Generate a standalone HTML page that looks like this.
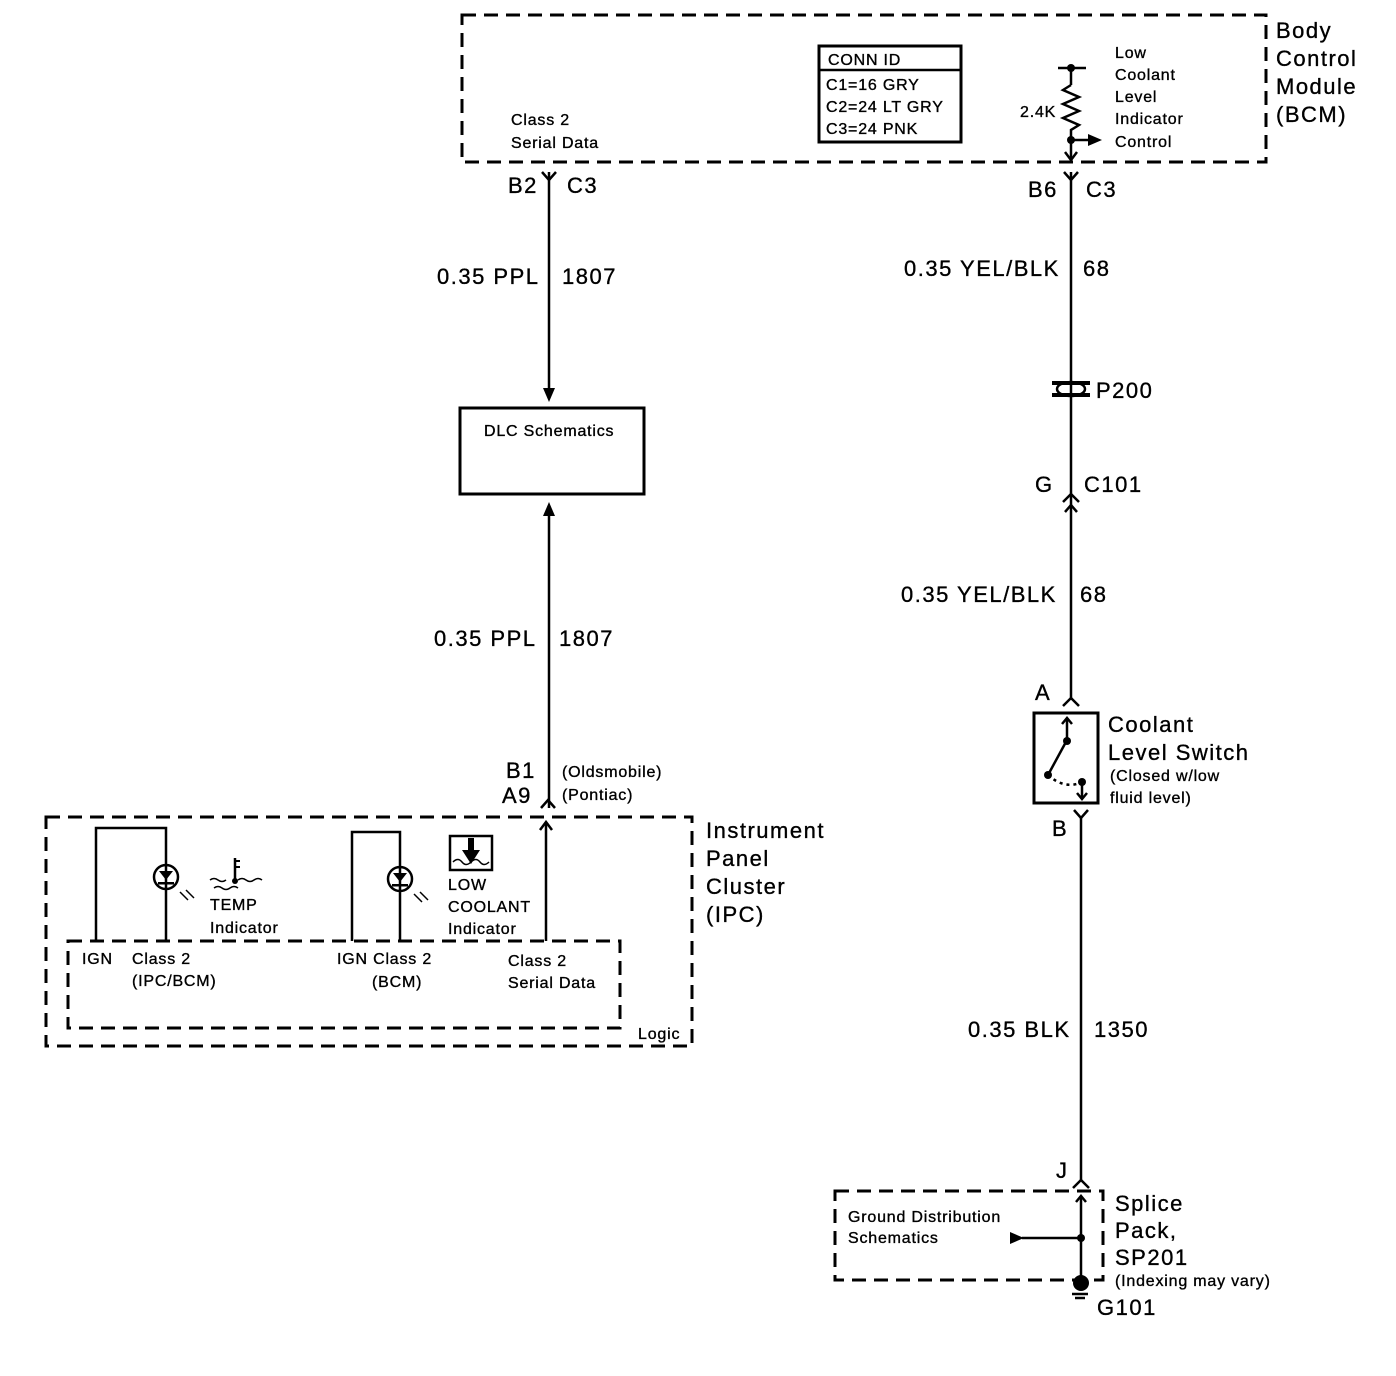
<!DOCTYPE html>
<html><head><style>
html,body{margin:0;padding:0;background:#fff;}
svg{display:block;}
text{font-family:"Liberation Sans",Arial,sans-serif;fill:#000;stroke:#000;stroke-width:0.35;}
.s{letter-spacing:0.8px;}
.b{letter-spacing:1.5px;}
</style></head><body>
<svg width="1396" height="1376" viewBox="0 0 1396 1376" xmlns="http://www.w3.org/2000/svg">
<g fill="none" stroke="#000" stroke-width="3" stroke-dasharray="14,8">
<rect x="462" y="15" width="804" height="147"/>
<rect x="46" y="817" width="646" height="229"/>
<rect x="68" y="941" width="552" height="87"/>
<rect x="835" y="1191" width="268" height="89"/>
</g>
<g stroke="#000" stroke-width="2.5" fill="none">
<line x1="549" y1="172" x2="549" y2="392"/>
<path d="M542 172 L549 180 L556 172"/>
<line x1="549" y1="512" x2="549" y2="808"/>
<path d="M541 808 L548 800 L555 808"/>
<line x1="546" y1="822" x2="546" y2="941"/>
<path d="M540 830 L546 822 L552 830"/>
<rect x="460" y="408" width="184" height="86" stroke-width="3"/>
<rect x="819" y="46" width="142" height="96" stroke-width="3"/>
<line x1="819" y1="70" x2="961" y2="70"/>
<line x1="1071" y1="68" x2="1071" y2="85"/>
<line x1="1058" y1="68" x2="1086" y2="68"/>
<path d="M1071 85 L1063 90 L1079 97 L1063 104 L1079 111 L1063 118 L1079 125 L1071 130 L1071 160"/>
<line x1="1071" y1="140" x2="1092" y2="140"/>
<path d="M1065 152 L1071 160 L1077 152"/>
<line x1="1071" y1="172" x2="1071" y2="700"/>
<path d="M1064 172 L1071 180 L1078 172"/>
<path d="M1063 502 L1071 494 L1079 502"/>
<path d="M1065 512 L1071 505 L1077 512"/>
<path d="M1063 706 L1071 698 L1079 706"/>
<rect x="1034" y="713" width="64" height="90" stroke-width="3"/>
<line x1="1067" y1="718" x2="1067" y2="740"/>
<path d="M1062 724 L1067 718 L1072 724"/>
<line x1="1067" y1="740" x2="1048" y2="775"/>
<path d="M1048 775 Q1065 790 1082 782" stroke-dasharray="3,4"/>
<line x1="1082" y1="782" x2="1082" y2="799"/>
<path d="M1077 793 L1082 799 L1087 793"/>
<line x1="1081" y1="818" x2="1081" y2="1180"/>
<path d="M1074 810 L1081 818 L1088 810"/>
<path d="M1073 1188 L1081 1180 L1089 1188"/>
<line x1="1081" y1="1196" x2="1081" y2="1280"/>
<path d="M1076 1202 L1081 1196 L1086 1202"/>
<line x1="1022" y1="1238" x2="1081" y2="1238"/>
<line x1="1072" y1="1294" x2="1088" y2="1294"/>
<line x1="1075" y1="1298" x2="1085" y2="1298"/>
<path d="M96 941 L96 828 L166 828 L166 941"/>
<circle cx="166" cy="877" r="12"/>
<path d="M352 941 L352 832 L400 832 L400 941"/>
<circle cx="400" cy="879" r="12"/>
<rect x="450" y="836" width="42" height="34"/>
<path d="M210 880 q4 -3 8 0 t8 0 M238 880 q4 -3 8 0 t8 0 t8 0 M214 888 q4 -3 8 0 t8 0 t8 0" stroke-width="1.5"/>
<line x1="235" y1="858" x2="235" y2="880"/>
<path d="M453 862 q5 -5 9 0 t9 0 t9 0 t9 0" stroke-width="1.5"/>
<path d="M180 892 l8 8 M186 890 l8 8 M414 894 l8 8 M420 892 l8 8" stroke-width="1.5"/>
</g>
<g fill="#000">
<polygon points="543,388 555,388 549,402"/>
<polygon points="543,516 555,516 549,502"/>
<polygon points="1088,134 1088,146 1102,140"/>
<circle cx="1071" cy="68" r="4"/><circle cx="1071" cy="140" r="4"/>
<circle cx="1067" cy="741" r="4"/><circle cx="1048" cy="775" r="4"/><circle cx="1082" cy="782" r="4"/>
<polygon points="1010,1232 1010,1244 1024,1238"/>
<circle cx="1081" cy="1238" r="4"/>
<circle cx="1081" cy="1283" r="8"/>
<rect x="1052" y="381" width="38" height="4"/><rect x="1052" y="393" width="38" height="4"/>
<ellipse cx="1071" cy="389" rx="14" ry="7" fill="none" stroke="#000" stroke-width="2.5"/>
<polygon points="159,871 173,871 166,880"/><rect x="158" y="882" width="16" height="2.5"/>
<polygon points="393,873 407,873 400,882"/><rect x="392" y="884" width="16" height="2.5"/>
<polygon points="462,850 480,850 471,864"/><rect x="468" y="838" width="6" height="14"/>
<circle cx="235" cy="881" r="3"/>
<rect x="235" y="860" width="5" height="2"/><rect x="235" y="866" width="5" height="2"/>
</g>
<g font-size="16" class="s">
<text x="828" y="65">CONN ID</text>
<text x="826" y="90">C1=16 GRY</text>
<text x="826" y="112">C2=24 LT GRY</text>
<text x="826" y="134">C3=24 PNK</text>
<text x="511" y="125">Class 2</text>
<text x="511" y="148">Serial Data</text>
<text x="1020" y="117">2.4K</text>
<text x="1115" y="58">Low</text><text x="1115" y="80">Coolant</text><text x="1115" y="102">Level</text><text x="1115" y="124">Indicator</text><text x="1115" y="147">Control</text>
<text x="484" y="436">DLC Schematics</text>
<text x="562" y="777">(Oldsmobile)</text><text x="562" y="800">(Pontiac)</text>
<text x="210" y="910">TEMP</text><text x="210" y="933">Indicator</text>
<text x="448" y="890">LOW</text><text x="448" y="912">COOLANT</text><text x="448" y="934">Indicator</text>
<text x="82" y="964">IGN</text><text x="132" y="964">Class 2</text><text x="132" y="986">(IPC/BCM)</text>
<text x="337" y="964">IGN Class 2</text><text x="372" y="987">(BCM)</text>
<text x="508" y="966">Class 2</text><text x="508" y="988">Serial Data</text>
<text x="638" y="1039">Logic</text>
<text x="1110" y="781">(Closed w/low</text><text x="1110" y="803">fluid level)</text>
<text x="848" y="1222">Ground Distribution</text><text x="848" y="1243">Schematics</text>
<text x="1115" y="1286">(Indexing may vary)</text>
</g>
<g font-size="22" class="b">
<text x="1276" y="38">Body</text><text x="1276" y="66">Control</text><text x="1276" y="94">Module</text><text x="1276" y="122">(BCM)</text>
<text x="508" y="193">B2</text><text x="567" y="193">C3</text>
<text x="1028" y="197">B6</text><text x="1086" y="197">C3</text>
<text x="437" y="284">0.35 PPL</text><text x="562" y="284">1807</text>
<text x="904" y="276">0.35 YEL/BLK</text><text x="1083" y="276">68</text>
<text x="1096" y="398">P200</text>
<text x="1035" y="492">G</text><text x="1084" y="492">C101</text>
<text x="901" y="602">0.35 YEL/BLK</text><text x="1080" y="602">68</text>
<text x="434" y="646">0.35 PPL</text><text x="559" y="646">1807</text>
<text x="506" y="778">B1</text><text x="502" y="803">A9</text>
<text x="1035" y="700">A</text>
<text x="1108" y="732">Coolant</text><text x="1108" y="760">Level Switch</text>
<text x="1052" y="836">B</text>
<text x="706" y="838">Instrument</text><text x="706" y="866">Panel</text><text x="706" y="894">Cluster</text><text x="706" y="922">(IPC)</text>
<text x="968" y="1037">0.35 BLK</text><text x="1094" y="1037">1350</text>
<text x="1056" y="1178">J</text>
<text x="1115" y="1211">Splice</text><text x="1115" y="1238">Pack,</text><text x="1115" y="1265">SP201</text>
<text x="1097" y="1315">G101</text>
</g>
</svg>
</body></html>
